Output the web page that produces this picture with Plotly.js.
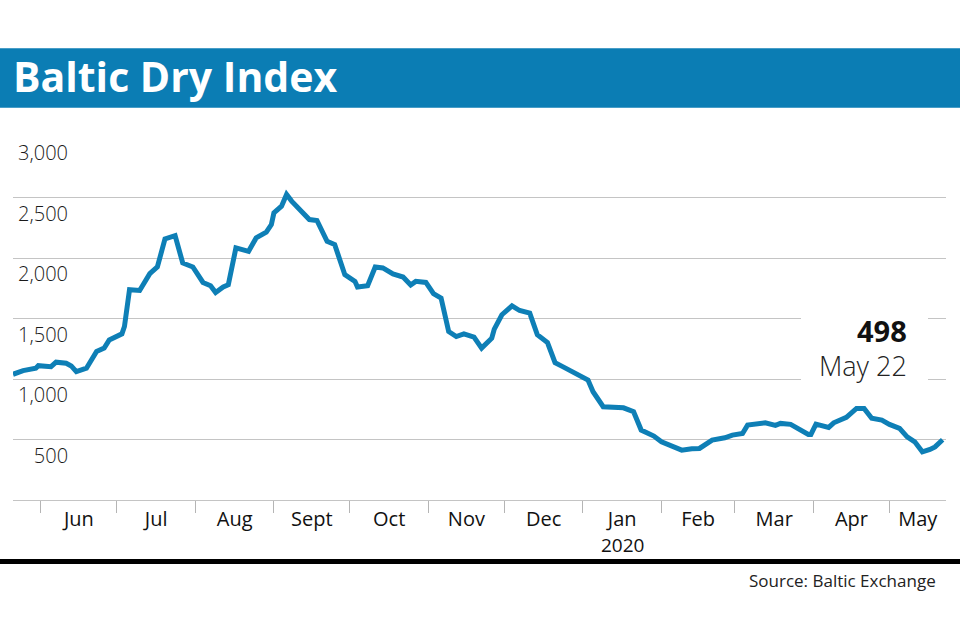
<!DOCTYPE html>
<html>
<head>
<meta charset="utf-8">
<script src="https://cdn.plot.ly/plotly-3.0.1.min.js"></script>
<style>
html,body{margin:0;padding:0;background:#fff;}
#chart{width:960px;height:640px;}
</style>
</head>
<body>
<div id="chart"></div>
<script>
// ---- data ----
const dates = ['2019-05-21','2019-05-25','2019-05-30','2019-05-31','2019-06-05','2019-06-07','2019-06-11','2019-06-13','2019-06-15','2019-06-19','2019-06-23','2019-06-26','2019-06-28','2019-07-03','2019-07-04','2019-07-06','2019-07-10','2019-07-12','2019-07-14','2019-07-17','2019-07-20','2019-07-24','2019-07-27','2019-07-31','2019-08-04','2019-08-07','2019-08-09','2019-08-12','2019-08-14','2019-08-17','2019-08-22','2019-08-25','2019-08-29','2019-08-31','2019-09-01','2019-09-04','2019-09-06','2019-09-08','2019-09-11','2019-09-15','2019-09-18','2019-09-19','2019-09-22','2019-09-25','2019-09-29','2019-10-03','2019-10-04','2019-10-08','2019-10-11','2019-10-14','2019-10-18','2019-10-22','2019-10-25','2019-10-27','2019-10-31','2019-11-03','2019-11-06','2019-11-09','2019-11-12','2019-11-15','2019-11-19','2019-11-22','2019-11-26','2019-11-27','2019-11-30','2019-12-04','2019-12-07','2019-12-11','2019-12-14','2019-12-18','2019-12-21','2019-12-24','2019-12-29','2020-01-03','2020-01-05','2020-01-07','2020-01-09','2020-01-17','2020-01-21','2020-01-24','2020-01-29','2020-02-01','2020-02-04','2020-02-09','2020-02-13','2020-02-16','2020-02-21','2020-02-26','2020-02-29','2020-03-04','2020-03-06','2020-03-10','2020-03-13','2020-03-17','2020-03-19','2020-03-23','2020-03-27','2020-03-30','2020-03-31','2020-04-02','2020-04-07','2020-04-09','2020-04-14','2020-04-18','2020-04-21','2020-04-24','2020-04-28','2020-05-01','2020-05-05','2020-05-08','2020-05-11','2020-05-14','2020-05-17','2020-05-19','2020-05-22'];
const bdi = [1039,1069,1089,1110,1102,1139,1130,1108,1061,1089,1227,1255,1323,1373,1434,1738,1732,1793,1870,1926,2158,2185,1959,1926,1798,1771,1715,1760,1779,2083,2055,2166,2213,2276,2373,2428,2525,2470,2407,2318,2310,2268,2138,2111,1862,1807,1760,1771,1926,1918,1868,1843,1777,1807,1798,1705,1669,1392,1351,1373,1346,1255,1337,1412,1531,1605,1566,1545,1365,1301,1135,1102,1047,992,895,826,771,762,729,578,528,481,453,412,423,426,495,514,536,550,619,625,638,617,633,625,572,542,542,627,600,638,683,757,757,675,660,625,592,522,481,398,418,439,498];
const monthStarts = ['2019-06-01','2019-07-01','2019-08-01','2019-09-01','2019-10-01','2019-11-01','2019-12-01','2020-01-01','2020-02-01','2020-03-01','2020-04-01','2020-05-01'];
const monthLabels = ['Jun','Jul','Aug','Sept','Oct','Nov','Dec','Jan','Feb','Mar','Apr','May'];
const yearLabel = '2020';
const yTicks = [0,500,1000,1500,2000,2500,3000];
const yTickLabels = ['','500','1,000','1,500','2,000','2,500','3,000'];
const xRange = ['2019-05-21','2020-05-23 08:00'];
const lastValue = '498';
const lastDate = 'May 22';

// ---- layout helpers ----
const W = 960, H = 640;
const M = {l: 13, r: 14, t: 137, b: 140};
const pw = W - M.l - M.r, ph = H - M.t - M.b;
const px = x => (x - M.l) / pw;
const py = y => (H - M.b - y) / ph;

const toMs = s => new Date(s.length === 10 ? s + 'T00:00:00Z' : s.replace(' ', 'T') + ':00Z').getTime();
const ends = monthStarts.slice(1).concat([xRange[1]]);
const mid = monthStarts.map((s, i) =>
  new Date((toMs(s) + toMs(ends[i])) / 2).toISOString().slice(0, 19).replace('T', ' '));

const BLUE = '#0b7db4';
const trace = {
  x: dates, y: bdi, type: 'scatter', mode: 'lines',
  line: {color: '#0e7fb6', width: 5, shape: 'linear'},
  hoverinfo: 'skip', cliponaxis: false
};

const FONT = 'Open Sans, sans-serif';
const layout = {
  width: W, height: H,
  margin: M,
  paper_bgcolor: '#fff', plot_bgcolor: '#fff',
  showlegend: false,
  title: {
    text: '<b>Baltic Dry Index</b>',
    font: {family: FONT, size: 41, color: '#fff', weight: 800},
    xref: 'container', yref: 'container', x: 13 / W, xanchor: 'left',
    y: 1 - 78 / H, yanchor: 'middle'
  },
  xaxis: {
    type: 'date', range: xRange,
    showgrid: false, zeroline: false,
    showline: true, linecolor: '#c4c4c4', linewidth: 1,
    tickmode: 'array', tickvals: mid, ticktext: monthLabels,
    ticks: '', ticklabelstandoff: 1,
    tickfont: {family: FONT, size: 20, color: '#111'},
    minor: {tickmode: 'array', tickvals: monthStarts, ticks: 'outside', ticklen: 12, tickcolor: '#b5b5b5', tickwidth: 1, showgrid: false}
  },
  yaxis: {
    range: [0, 3000], fixedrange: true,
    tickmode: 'array', tickvals: yTicks, ticktext: yTickLabels,
    showgrid: true, gridcolor: '#c4c4c4', gridwidth: 1,
    zeroline: false, showline: false, ticks: '',
    anchor: 'free', position: 0.059,
    ticklabelshift: 16,
    tickfont: {family: FONT, size: 20, color: '#1a1a1a', weight: 300}
  },
  shapes: [
    {type: 'rect', xref: 'paper', yref: 'paper', x0: px(0), x1: px(960), y0: py(107.7), y1: py(48.3), fillcolor: BLUE, line: {width: 0}, layer: 'below'},
    {type: 'rect', xref: 'paper', yref: 'paper', x0: px(0), x1: px(960), y0: py(564), y1: py(559), fillcolor: '#000', line: {width: 0}, layer: 'above'},
    {type: 'rect', xref: 'paper', yref: 'paper', x0: px(801), x1: px(928), y0: py(386), y1: py(310), fillcolor: '#fff', line: {width: 0}, layer: 'above'}
  ],
  annotations: [
    {xref: 'x', yref: 'paper', x: mid[7], y: py(545), xanchor: 'center', yanchor: 'middle', showarrow: false,
     text: yearLabel, font: {family: FONT, size: 19, color: '#111'}, borderpad: 0},
    {xref: 'paper', yref: 'paper', x: px(909), y: py(330), xanchor: 'right', yanchor: 'middle', showarrow: false,
     text: '<b>' + lastValue + '</b>', font: {family: FONT, size: 29, color: '#111'}},
    {xref: 'paper', yref: 'paper', x: px(909), y: py(365), xanchor: 'right', yanchor: 'middle', showarrow: false,
     text: lastDate, font: {family: FONT, size: 27, color: '#222', weight: 300}},
    {xref: 'paper', yref: 'paper', x: px(938), y: py(580), xanchor: 'right', yanchor: 'middle', showarrow: false,
     text: 'Source: Baltic Exchange', font: {family: FONT, size: 17, color: '#222'}}
  ]
};

Plotly.newPlot('chart', [trace], layout, {staticPlot: true, displayModeBar: false});
</script>
</body>
</html>
